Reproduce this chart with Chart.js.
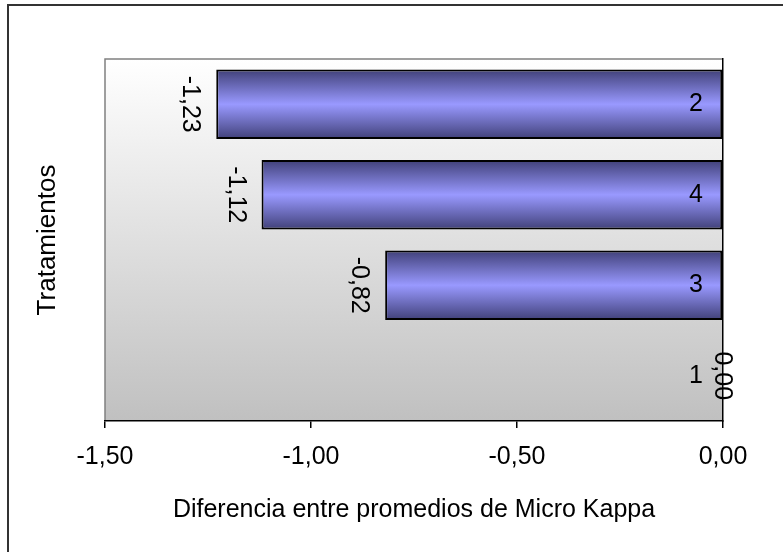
<!DOCTYPE html>
<html>
<head>
<meta charset="utf-8">
<script src="https://cdn.jsdelivr.net/npm/chart.js@4/dist/chart.umd.min.js"></script>
<style>
  html, body { margin: 0; padding: 0; background: #ffffff; }
  #wrap { width: 783px; height: 552px; position: relative; }
</style>
</head>
<body>
<div id="wrap"><canvas id="c" width="783" height="552"></canvas></div>
<script>
// Treatments, listed from top to bottom
const categories = ['2', '4', '3', '1'];
// Difference between Micro Kappa means
const differences = [-1.23, -1.12, -0.82, 0.00];
// Horizontal axis
const axisMin = -1.5;
const axisMax = 0;
const axisStep = 0.5;

const xTitle = 'Diferencia entre promedios de Micro Kappa';
const yTitle = 'Tratamientos';

const FONT = "'Liberation Sans', Arial, sans-serif";
const fmt = v => v.toFixed(2).replace('.', ',');

// Draws centred text, optionally rotated
function drawText(ctx, text, x, y, angle, size) {
  ctx.save();
  ctx.fillStyle = '#000000';
  ctx.font = size + 'px ' + FONT;
  ctx.textAlign = 'center';
  ctx.textBaseline = 'middle';
  ctx.translate(x, y);
  ctx.rotate(angle);
  ctx.fillText(text, 0, 0);
  ctx.restore();
}

// Plot background, frame, outer border and axis titles
const framePlugin = {
  id: 'frame',
  beforeDraw(chart) {
    const { ctx, chartArea: a } = chart;
    ctx.save();
    ctx.fillStyle = '#ffffff';
    ctx.fillRect(0, 0, chart.width, chart.height);
    // outer border
    ctx.strokeStyle = '#333333';
    ctx.lineWidth = 2;
    ctx.strokeRect(8, 5, chart.width + 20, chart.height + 20);
    // plot area gradient
    const g = ctx.createLinearGradient(0, a.top, 0, a.bottom);
    g.addColorStop(0, '#ffffff');
    g.addColorStop(1, '#c0c0c0');
    ctx.fillStyle = g;
    ctx.fillRect(a.left, a.top, a.right - a.left, a.bottom - a.top);
    // gray frame on top and left
    ctx.strokeStyle = '#808080';
    ctx.lineWidth = 1.5;
    ctx.beginPath();
    ctx.moveTo(a.right, a.top);
    ctx.lineTo(a.left, a.top);
    ctx.lineTo(a.left, a.bottom);
    ctx.stroke();
    ctx.restore();
  },
  afterDraw(chart) {
    const a = chart.chartArea;
    drawText(chart.ctx, yTitle, a.left - 57, (a.top + a.bottom) / 2, -Math.PI / 2, 26);
    drawText(chart.ctx, xTitle, (a.left + a.right) / 2, a.bottom + 89, 0, 25);
  }
};

// Rotated value labels at the bar ends
const valueLabels = {
  id: 'valueLabels',
  afterDatasetsDraw(chart) {
    const meta = chart.getDatasetMeta(0);
    meta.data.forEach((bar, i) => {
      const v = differences[i];
      const x = v < 0 ? bar.x - 26 : bar.x - 1;
      drawText(chart.ctx, fmt(v), x, bar.y, Math.PI / 2, 25);
    });
  }
};

function barFill(context) {
  const chart = context.chart;
  const ys = chart.scales.y;
  if (!ys || !chart.chartArea) return '#9999ff';
  const c = ys.getPixelForValue(context.dataIndex);
  const band = (ys.bottom - ys.top) / categories.length;
  const h = band * 0.77 / 2;
  const g = chart.ctx.createLinearGradient(0, c - h, 0, c + h);
  g.addColorStop(0, '#404078');
  g.addColorStop(0.5, '#9999ff');
  g.addColorStop(1, '#404078');
  return g;
}

new Chart(document.getElementById('c'), {
  type: 'bar',
  data: {
    labels: categories,
    datasets: [{
      data: differences,
      backgroundColor: barFill,
      borderColor: '#000000',
      borderWidth: 2,
      borderSkipped: false,
      categoryPercentage: 0.77,
      barPercentage: 1.0
    }]
  },
  options: {
    indexAxis: 'y',
    responsive: false,
    animation: false,
    devicePixelRatio: 1,
    layout: { padding: { left: 105, top: 59, right: 60, bottom: 0 } },
    plugins: {
      legend: { display: false },
      tooltip: { enabled: false },
      title: { display: false }
    },
    scales: {
      x: {
        type: 'linear',
        position: 'bottom',
        min: axisMin,
        max: axisMax,
        afterFit(s) { s.height = 131; },
        ticks: {
          stepSize: axisStep,
          color: '#000000',
          font: { family: FONT, size: 25 },
          padding: 14,
          callback: v => fmt(v)
        },
        grid: {
          drawOnChartArea: false,
          drawTicks: true,
          tickLength: 7,
          color: '#000000',
          lineWidth: 1.5
        },
        border: { display: true, color: '#000000', width: 1.5 }
      },
      y: {
        type: 'category',
        position: 'right',
        afterFit(s) { s.width = 0; },
        ticks: {
          mirror: true,
          z: 1,
          color: '#000000',
          font: { family: FONT, size: 25 },
          padding: -20
        },
        grid: { display: false, drawTicks: false },
        border: { display: true, color: '#000000', width: 1.5, z: 1 }
      }
    }
  },
  plugins: [framePlugin, valueLabels]
});
</script>
</body>
</html>
